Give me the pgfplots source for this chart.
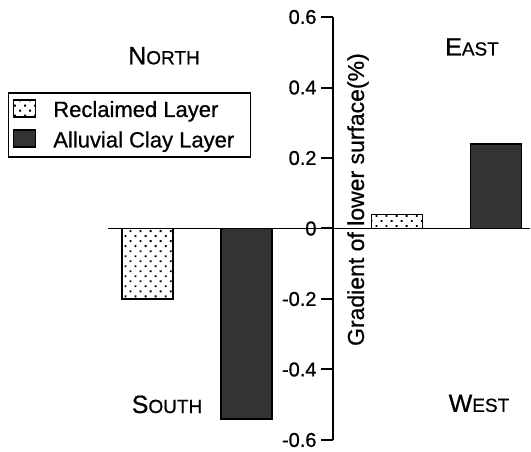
\documentclass[border=0pt]{standalone}
\usepackage{fontspec}
\setmainfont{Liberation Sans}[FakeBold=0.7]
\usepackage{pgfplots}
\pgfplotsset{compat=1.18}
\usetikzlibrary{patterns.meta}
\pgfplotsset{mylegend/.style={legend image code/.code={\draw[##1] (0pt,-7pt) rectangle (22pt,10pt);}}}
\newcommand{\dirlab}[2]{{\fontsize{25}{25}\selectfont #1}{\fontsize{19}{19}\selectfont #2}}
\begin{document}
\begin{tikzpicture}[x=1pt,y=1pt]
\begin{axis}[
  at={(108pt,12pt)}, anchor=south west,
  scale only axis, width=422pt, height=423pt,
  xmin=-225, xmax=197, ymin=-0.6, ymax=0.6,
  clip=false,
  axis x line=middle, axis y line=middle,
  axis line style={-},
  x axis line style={line width=1.8pt},
  y axis line style={line width=2.6pt},
  xtick=\empty,
  ytick={-0.6,-0.4,-0.2,0,0.2,0.4,0.6},
  yticklabels={-0.6,-0.4,-0.2,0,0.2,0.4,0.6},
  hide obscured y ticks=false,
  ytick align=outside,
  major tick length=12pt,
  ytick style={line width=2pt, black},
  yticklabel style={font=\fontsize{20}{20}\selectfont, xshift=-1pt},
  legend style={at={(-0.237,0.822)}, anchor=north west,
    draw=black, line width=1.5pt,
    font=\fontsize{22}{24}\selectfont,
    inner xsep=4pt, inner ysep=5pt,
    nodes={inner sep=3pt},
    column sep=14pt,
    legend cell align=left, row sep=7pt},
]
\addplot[ybar, bar width=51, bar shift=0pt, draw=black, line width=1.6pt,
  pattern={Dots[radius=1.3pt, distance=7.1pt, angle=45]}, pattern color=black,
  mylegend]
  coordinates {(-185.5,-0.2) (64,0.04)};
\addlegendentry{Reclaimed Layer}
\addplot[ybar, bar width=51, bar shift=0pt, draw=black, line width=1.6pt,
  fill=black!80, mylegend]
  coordinates {(-86.5,-0.54) (163,0.24)};
\addlegendentry{Alluvial Clay Layer\rule{9pt}{0pt}}
\node[rotate=90, font=\fontsize{23}{24}\selectfont] at (axis cs:25,0.082) {Gradient of lower surface(\%)};
\node at (axis cs:-169,0.49) {\dirlab{N}{ORTH}};
\node at (axis cs:139,0.515) {\dirlab{E}{AST}};
\node at (axis cs:-166,-0.499) {\dirlab{S}{OUTH}};
\node at (axis cs:146,-0.496) {\dirlab{W}{EST}};
\end{axis}
\pgfresetboundingbox
\path[use as bounding box] (0,0) rectangle (531,452);
\end{tikzpicture}
\end{document}
